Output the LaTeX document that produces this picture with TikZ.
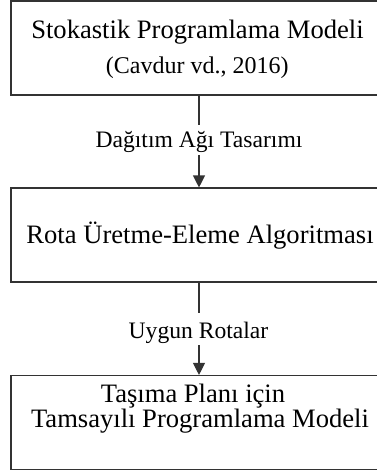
\documentclass[tikz,border=0pt]{standalone}
\usepackage{fontspec}
\setmainfont{Liberation Serif}
\usetikzlibrary{arrows.meta}
\tikzset{
  stage/.style={draw=black!80, line width=1.1pt, minimum width=375pt, minimum height=94pt, inner sep=0pt},
  title/.style={anchor=base, inner sep=0pt, font=\fontsize{26.6}{30}\selectfont},
  note/.style={anchor=base, inner sep=0pt, font=\fontsize{24}{28}\selectfont},
  flowlabel/.style={anchor=base, inner sep=0pt, font=\fontsize{23.6}{27}\selectfont},
  link/.style={draw=black!80, line width=1.1pt},
  flow/.style={link, -{Triangle[length=12pt, width=12pt]}}
}
\begin{document}
\begin{tikzpicture}[x=1pt, y=-1pt]
  \useasboundingbox (0,0) rectangle (377,474);
  % three stages
  \node[stage] (b1) at (198.5,48) {};
  \node[stage] (b2) at (198.5,235) {};
  \node[stage] (b3) at (198.5,422.5) {};
  % stage texts
  \node[title] (t1) at (197.5,38) {Stokastik Programlama Modeli};
  \node[note]  (t1b) at (197.3,73.5) {(Cavdur vd., 2016)};
  \node[title] (t2) at (200,243) {Rota Üretme-Eleme Algoritması};
  \node[title] (t3a) at (193,402) {Taşıma Planı için};
  \node[title] (t3b) at (200,427) {Tamsayılı Programlama Modeli};
  % connector labels
  \node[flowlabel] (l1) at (199,147) {Dağıtım Ağı Tasarımı};
  \node[flowlabel] (l2) at (198.5,338) {Uygun Rotalar};
  \coordinate (l1top) at (199,125);
  \coordinate (l1bot) at (199,155);
  \coordinate (l2top) at (199,313);
  \coordinate (l2bot) at (199,345);
  % connectors
  \draw[link] (b1.south -| l1top) -- (l1top);
  \draw[flow] (l1bot) -- (b2.north -| l1bot);
  \draw[link] (b2.south -| l2top) -- (l2top);
  \draw[flow] (l2bot) -- (b3.north -| l2bot);
\end{tikzpicture}
\end{document}
